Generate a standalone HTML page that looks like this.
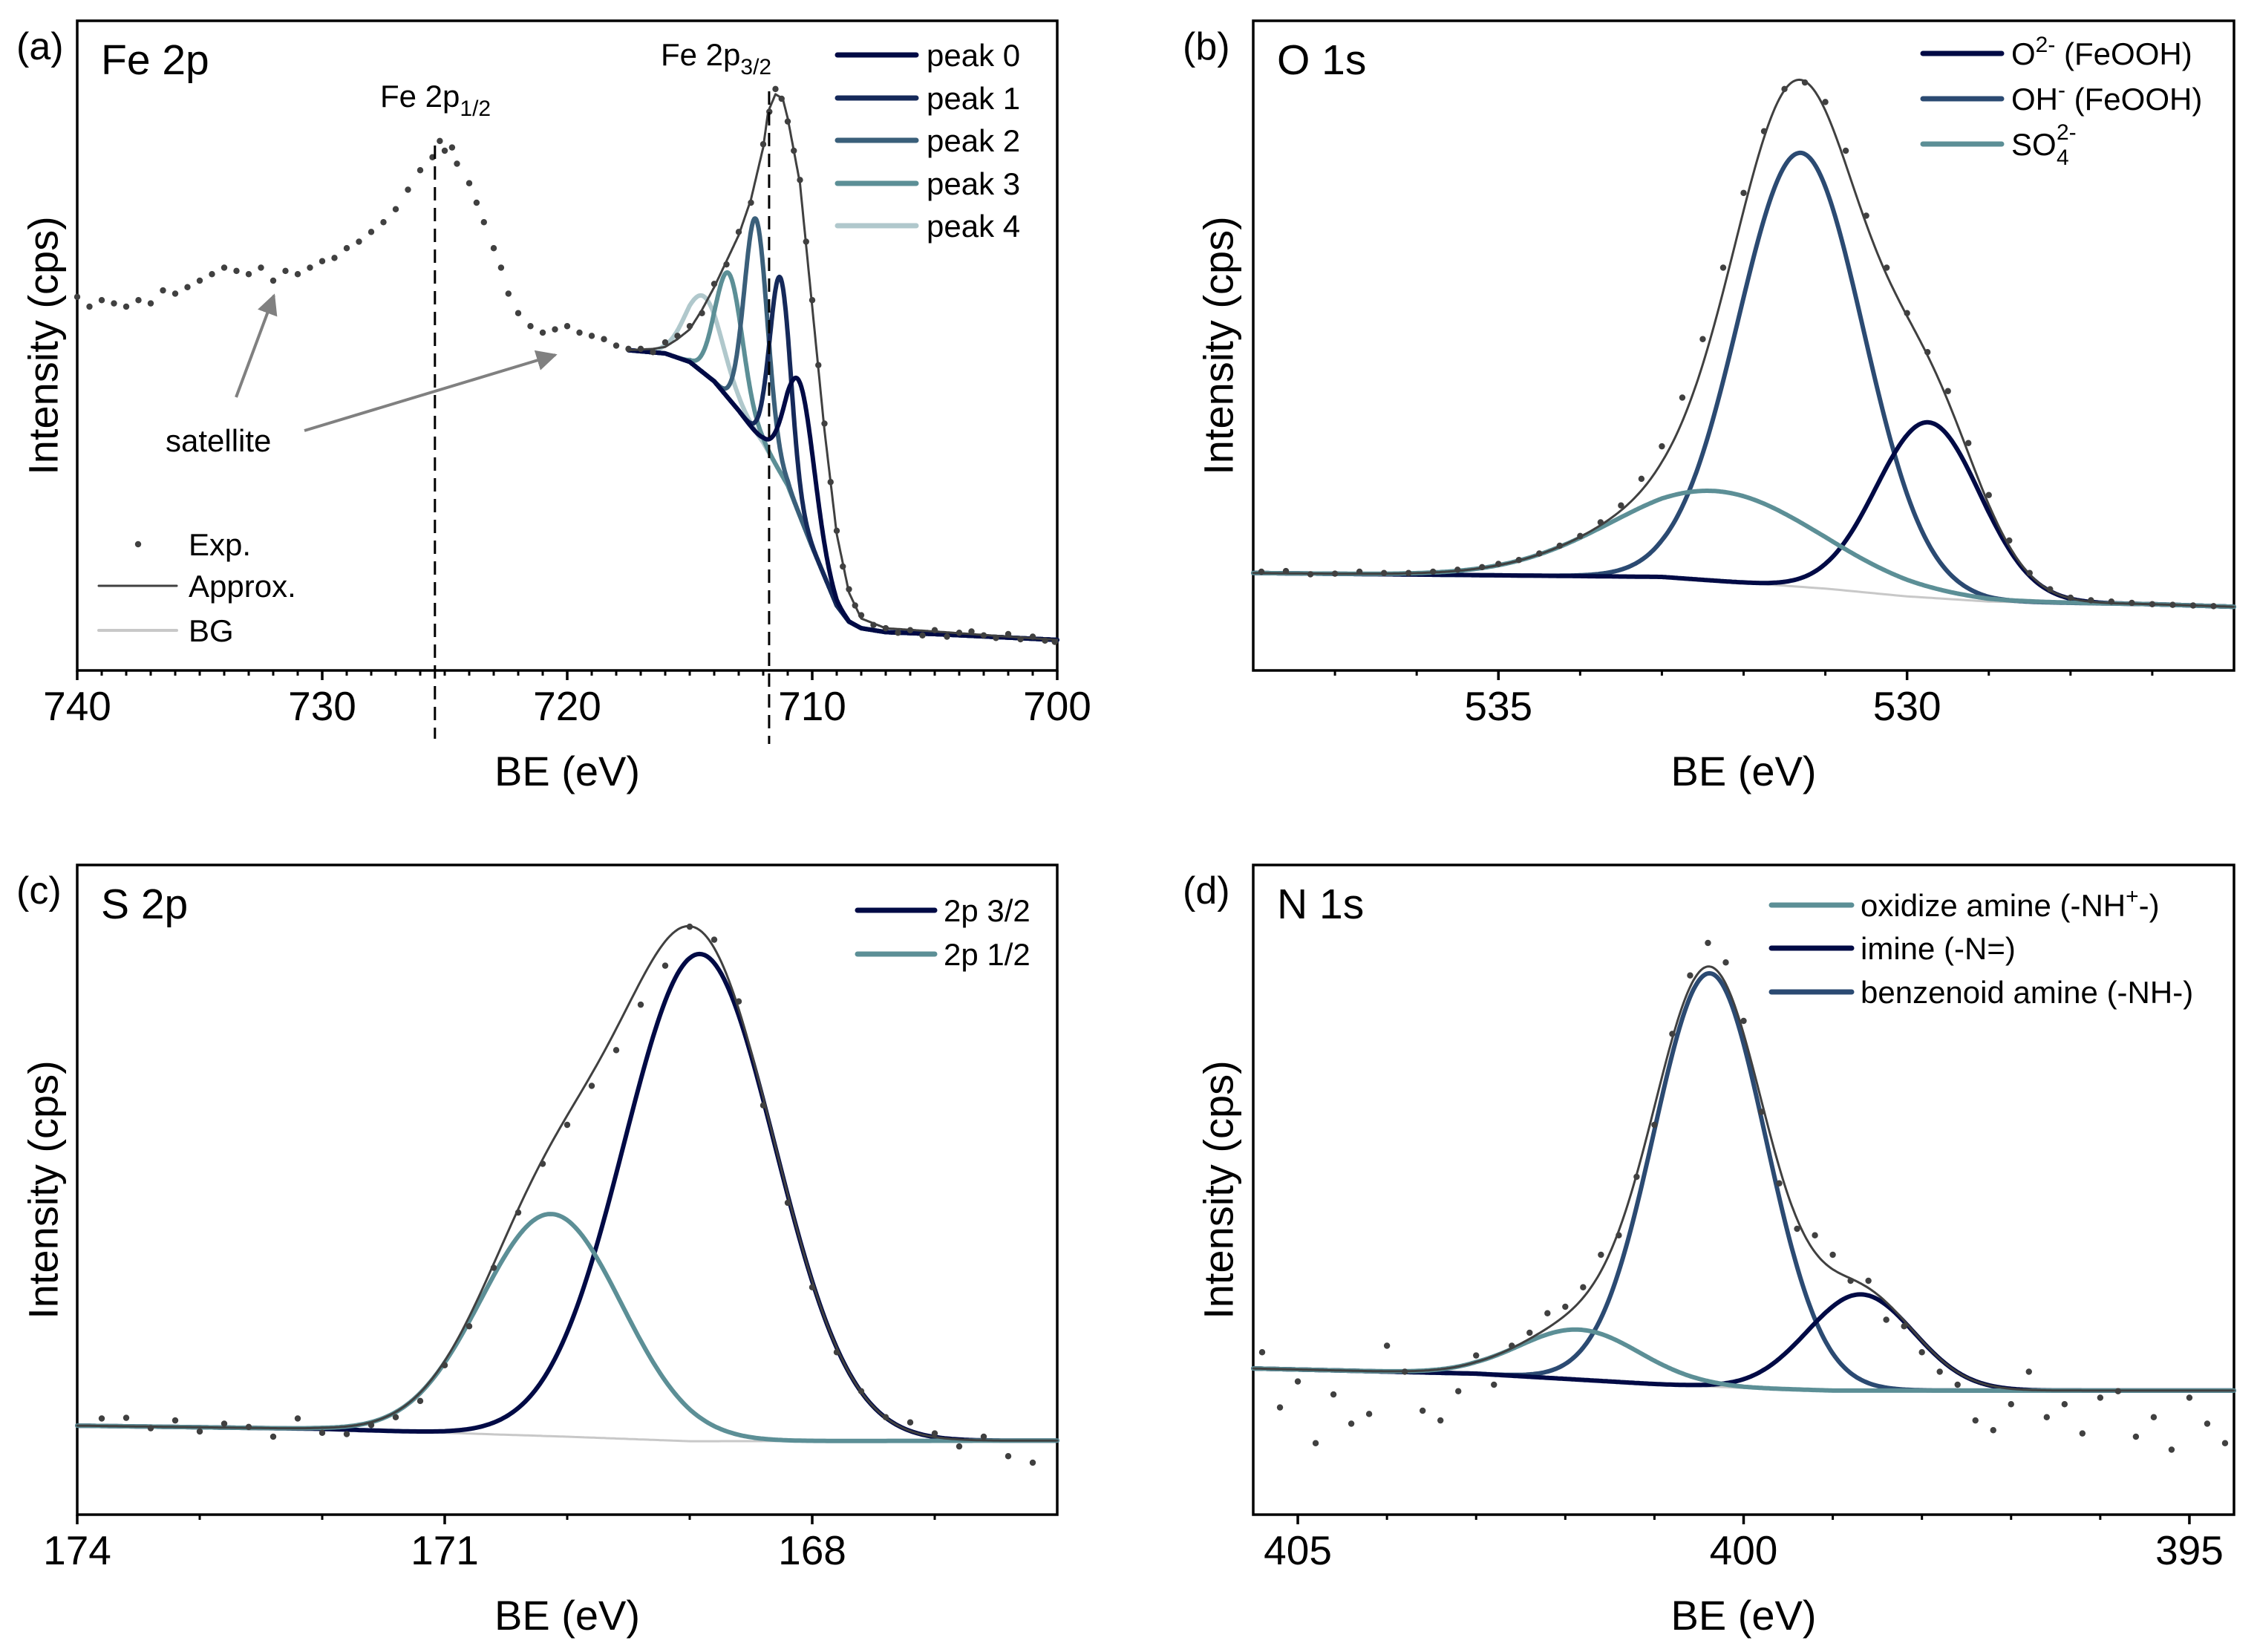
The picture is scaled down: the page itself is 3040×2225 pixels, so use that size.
<!DOCTYPE html>
<html><head><meta charset="utf-8"><style>
html,body{margin:0;padding:0;background:#fff;}
svg{display:block;font-family:"Liberation Sans",Arial,sans-serif;}
</style></head><body>
<svg id="fig" width="3040" height="2225" viewBox="0 0 3040 2225" xmlns="http://www.w3.org/2000/svg">
<defs>
<marker id="ah" viewBox="0 0 10 10" refX="9" refY="5" markerWidth="7" markerHeight="7" orient="auto" markerUnits="strokeWidth"><path d="M0,0 L10,5 L0,10 z" fill="#808080"/></marker>
</defs>
</svg>
<script>
// ---------- Panel (a) Fe 2p data ----------
const aExpX=[740,739.5,739,738.5,738,737.5,737,736.5,736,735.5,735,734.5,734,733.5,733,732.5,732,731.5,731,730.5,730,729.5,729,728.5,728,727.5,727,726.5,726,725.5,725.2,725,724.7,724.5,724,723.7,723.4,723,722.7,722.4,722,721.5,721,720.5,720,719.5,719,718.5,718,717.5,717,716.5,716,715.5,715,714.5,714,713.5,713,712.5,712,711.75,711.5,711.25,711,710.75,710.5,710.25,710,709.75,709.5,709.25,709,708.75,708.5,708.25,708,707.5,707,706.5,706,705.5,705,704.5,704,703.5,703,702.5,702,701.5,701,700.5,700.1];
const aExpY=[57.5,56,57,56.5,56,57,56.5,58.5,58,59,60,61,62,61.5,61,62,60,61.5,61,62,63,63.5,65,66,67.5,69,71,74,77,79,81.5,80,80.5,78,75,72,69,65,62,58,55,53,52,52.5,53,52,51.5,51,50,49.5,49.5,49,50.5,51.5,53,55,59.5,62.5,67.5,72,81,86,89.5,88,84.5,80,75.5,66,57,47,38,29,21.5,16,12.5,10,8.5,7,6.5,5.8,6.2,5.4,6.2,5.2,5.8,6,5.4,5,5.6,4.8,5.2,4.6,4.4];
const aFitX=[717.5,716.5,716,715.5,715,714.5,714,713.5,713,712.5,712,711.8,711.5,711.2,711,710.5,710,709.5,709,708.5,708,707,705,702,700];
const aFitY=[49.3,49.5,49.8,51,52.5,55.5,59,63,67,72.5,80.5,86,88.7,88,85,75,56,37,21,12,8,6.5,6,5.2,4.7];
const aBgX=[717.5,716,715,714,713,712,711,710,709,708.5,708,707,705,700];
const aBgY=[49.3,48.8,47.5,44.5,40,35,28.5,19,10,7.5,6.5,5.9,5.6,4.7];
const aPeakNames=["peak 0","peak 1","peak 2","peak 3","peak 4"];
const aPeakCenter=[710.5,711.3,712.3,713.4,714.4];
const aPeakAmp=[20.5,30,33,19.3,11.8];
const aPeakFwhm=[1.4,1.0,1.1,1.3,1.8];
const aTicks=[740,730,720,710,700];
const aTickLabels=["740","730","720","710","700"];

// ---------- Panel (b) O 1s data ----------
const bExpX=[537.9,537.6,537.3,537.0,536.7,536.4,536.1,535.8,535.5,535.2,535.0,534.75,534.5,534.25,534.0,533.75,533.5,533.25,533.0,532.75,532.5,532.25,532.0,531.75,531.5,531.25,531.0,530.75,530.5,530.25,530.0,529.75,529.5,529.25,529.0,528.75,528.5,528.25,528.0,527.75,527.5,527.25,527.0,526.75,526.5,526.25];
const bExpY=[15.2,15.3,14.8,14.9,15.2,15.0,15.0,15.2,15.5,15.9,16.4,17.0,18.0,19.2,20.7,22.8,25.4,29.5,34.5,42,51,62,73.5,83,89.5,90.5,87.5,80,70,62,55,49,43,35,27,20,15,12.5,11.2,10.8,10.6,10.4,10.2,10.1,10.0,9.9];
const bBgX=[538,533,531,530,529,527,526];
const bBgY=[15,14.4,12.6,11.4,10.6,10.2,9.8];
const bPeakCenter=[529.74,531.3,532.34];
const bPeakAmp=[27,66.8,13.8];
const bPeakFwhm=[1.5,1.8,3.0];
const bTicks=[535,530];
const bTickLabels=["535","530"];

// ---------- Panel (c) S 2p data ----------
const cExpX=[173.8,173.6,173.4,173.2,173.0,172.8,172.6,172.4,172.2,172.0,171.8,171.6,171.4,171.2,171.0,170.8,170.6,170.4,170.2,170.0,169.8,169.6,169.4,169.2,169.0,168.8,168.6,168.4,168.2,168.0,167.8,167.6,167.4,167.2,167.0,166.8,166.6,166.4,166.2];
const cExpY=[14.8,14.9,13.3,14.5,12.8,14.0,13.5,12.0,14.8,12.6,12.4,13.8,15.0,17.5,23,29,38,46.5,54,60,66,71.5,78.5,84.5,90.5,88.5,79,63,48,35,25,19,15,14.2,12.5,10.5,12.0,9.0,8.0];
const cBgX=[174,172,170,169,166];
const cBgY=[13.7,13.2,12,11.3,11.4];
const cPeakCenter=[168.92,170.13];
const cPeakAmp=[75,34.2];
const cPeakFwhm=[1.45,1.35];
const cTicks=[174,171,168];
const cTickLabels=["174","171","168"];

// ---------- Panel (d) N 1s data ----------
const dExpX=[405.4,405.2,405.0,404.8,404.6,404.4,404.2,404.0,403.8,403.6,403.4,403.2,403.0,402.8,402.6,402.4,402.2,402.0,401.8,401.6,401.4,401.2,401.0,400.8,400.6,400.4,400.2,400.0,399.8,399.6,399.4,399.2,399.0,398.8,398.6,398.4,398.2,398.0,397.8,397.6,397.4,397.2,397.0,396.8,396.6,396.4,396.2,396.0,395.8,395.6,395.4,395.2,395.0,394.8,394.6];
const dExpY=[25,16.5,20.5,11,18.5,14,15.5,26,22,16,14.5,19,24.5,20,26,28,31,32,35,40,43,52,60,74,83,88,85,76,62,51,44,43,40,36,36,30,29,25,22,20,14.5,13,17,22,15,17,12.5,18,19,12,15,10,18,14,11];
const dBgX=[405.5,403,401,400,399,394.5];
const dBgY=[22.5,21.7,20.1,19.5,19.1,19.1];
const dPeakCenter=[401.84,398.69,400.38];
const dPeakAmp=[7.7,14.8,63.6];
const dPeakFwhm=[1.6,1.41,1.48];
const dTicks=[405,400,395];
const dTickLabels=["405","400","395"];

// ---------- drawing ----------
const NS="http://www.w3.org/2000/svg";
const svg=document.getElementById('fig');
function mk(tag,attrs,parent){const e=document.createElementNS(NS,tag);for(const k in attrs)e.setAttribute(k,attrs[k]);(parent||svg).appendChild(e);return e;}
function gauss(x,c,A,F){return A*Math.exp(-4*Math.LN2*(x-c)*(x-c)/(F*F));}
function interp(xs,ys,x){for(let i=0;i<xs.length-1;i++){const a=xs[i],b=xs[i+1];if((x<=a&&x>=b)||(x>=a&&x<=b)){const t=(x-a)/(b-a);return ys[i]+t*(ys[i+1]-ys[i]);}}return x>xs[0]===(xs[0]>xs[xs.length-1])?ys[0]:ys[ys.length-1];}
const C0="#000a45",C1="#15295a",C2="#3a5f7a",C3="#5c8f96",C4="#b0c8cc",CB="#2b4a72";

function makePanel(P){
  const g=mk('g',{});
  
  
  P.sx=v=>P.L+(P.xL-v)/(P.xL-P.xR)*(P.R-P.L);
  P.sy=v=>P.B-v/100*(P.B-P.T);
  P.g=g;
  return P;
}
function drawAxes(P,ticks,labels,minorFrom,minorTo){
  const g=P.g;
  const box=mk('rect',{x:P.L,y:P.T,width:P.R-P.L,height:P.B-P.T,fill:'none',stroke:'#000','stroke-width':3.5},g);
  
  
  for(let v=minorFrom;v>=minorTo-1e-9;v-=1){
    const x=P.sx(v);
    const t=mk('line',{x1:x,x2:x,y1:P.B,y2:P.B+7,stroke:'#000','stroke-width':3},g);
    
    
  }
  ticks.forEach((v,i)=>{
    const x=P.sx(v);
    const t=mk('line',{x1:x,x2:x,y1:P.B,y2:P.B+13,stroke:'#000','stroke-width':3.5},g);
    
    
    const tx=mk('text',{x:x,y:P.B+67,'font-size':55,'text-anchor':'middle',fill:'#000'},g);
    tx.textContent=labels[i];
    
    
  });
  const xt=mk('text',{x:(P.L+P.R)/2,y:P.B+155,'font-size':56,'text-anchor':'middle'},g);
  xt.textContent='BE (eV)';
  
  
  const cy=(P.T+P.B)/2;
  const yt=mk('text',{x:P.yx,y:cy,'font-size':56,'text-anchor':'middle','dominant-baseline':'central',transform:`rotate(-90 ${P.yx} ${cy})`},g);
  yt.textContent='Intensity (cps)';
  
  
  const pl=mk('text',{x:P.plx,y:P.T+52,'font-size':52},g);
  pl.textContent=P.label;
  
  
  const tt=mk('text',{x:P.L+32,y:P.T+72,'font-size':57},g);
  tt.textContent=P.title;
  
  
}
function pathFrom(P,fn,x0,x1,step){
  let d='';for(let x=x0;x>=x1-1e-9;x-=step){d+=(d?'L':'M')+P.sx(x).toFixed(1)+','+P.sy(fn(x)).toFixed(1);}return d;
}
function curve(P,d,color,w,name){
  const p=mk('path',{d:d,fill:'none',stroke:color,'stroke-width':w,'stroke-linejoin':'round','stroke-linecap':'round'},P.g);
  
  
}
function dots(P,xs,ys){
  xs.forEach((x,i)=>{
    const c=mk('circle',{cx:P.sx(x),cy:P.sy(ys[i]),r:4.2,fill:'#404040'},P.g);
    
    
  });
}
function legendLine(g,x1,x2,y,color,w,label,tx,name){
  const l=mk('line',{x1:x1,x2:x2,y1:y,y2:y,stroke:color,'stroke-width':w,'stroke-linecap':'round'},g);
  
  
  const t=mk('text',{x:tx,y:y+15,'font-size':42},g);
  
  
  if(label!==null)t.textContent=label;
  return t;
}
function tspan(t,txt,attrs){const s=mk('tspan',attrs||{},t);s.textContent=txt;return s;}

// ---- Panel a ----
const A=makePanel({name:'panel-a-fe2p',L:104,R:1424,T:28,B:903,xL:740,xR:700,yx:58,plx:22,label:'(a)',title:'Fe 2p'});
drawAxes(A,aTicks,aTickLabels,739,701);
{
  const bg=x=>interp(aBgX,aBgY,x);
  curve(A,pathFrom(A,bg,717.5,700,0.05),'#c8c8c8',3,'bg-line');
  const cols=[C0,C1,C2,C3,C4];
  for(let i=aPeakCenter.length-1;i>=0;i--){
    curve(A,pathFrom(A,x=>bg(x)+gauss(x,aPeakCenter[i],aPeakAmp[i],aPeakFwhm[i]),717.5,700,0.02),cols[i],6,'peak-'+i+'-curve');
  }
  curve(A,pathFrom(A,x=>interp(aFitX,aFitY,x),717.5,700,0.05),'#404040',3,'approx-curve');
  dots(A,aExpX,aExpY);
  const lg=mk('g',{},A.g);
  
  
  const rows=[74,132,189,247,304];
  aPeakNames.forEach((n,i)=>legendLine(lg,1128,1234,rows[i],cols[i],7,n,1248,'legend-peak-'+i));
  const lg2=mk('g',{},A.g);
  
  
  const ed=mk('circle',{cx:186,cy:733,r:4.2,fill:'#404040'},lg2);
  
  
  const et=mk('text',{x:254,y:748,'font-size':42},lg2);et.textContent='Exp.';
  
  
  legendLine(lg2,133,238,789,'#404040',3,'Approx.',254,'legend-approx');
  legendLine(lg2,133,238,849,'#c8c8c8',4,'BG',254,'legend-bg');
  const d1=mk('line',{x1:A.sx(725.4),x2:A.sx(725.4),y1:196,y2:995,stroke:'#000','stroke-width':3,'stroke-dasharray':'18,10'},A.g);
  
  
  const d2=mk('line',{x1:A.sx(711.76),x2:A.sx(711.76),y1:123,y2:1002,stroke:'#000','stroke-width':3,'stroke-dasharray':'18,10'},A.g);
  
  
  const l1=mk('text',{x:512,y:144,'font-size':42},A.g);
  
  
  tspan(l1,'Fe 2p');tspan(l1,'1/2',{'font-size':30,dy:12});
  const l2=mk('text',{x:890,y:88,'font-size':42},A.g);
  
  
  tspan(l2,'Fe 2p');tspan(l2,'3/2',{'font-size':30,dy:12});
  const st=mk('text',{x:223,y:608,'font-size':42},A.g);st.textContent='satellite';
  
  
  const ar1=mk('line',{x1:318,y1:535,x2:369,y2:398,stroke:'#808080','stroke-width':4,'marker-end':'url(#ah)'},A.g);
  
  
  const ar2=mk('line',{x1:410,y1:580,x2:748,y2:478,stroke:'#808080','stroke-width':4,'marker-end':'url(#ah)'},A.g);
  
  
}

// ---- Panel b ----
const B=makePanel({name:'panel-b-o1s',L:1688,R:3009,T:28,B:903,xL:538,xR:526,yx:1641,plx:1593,label:'(b)',title:'O 1s'});
drawAxes(B,bTicks,bTickLabels,537,527);
{
  const bg=x=>interp(bBgX,bBgY,x);
  curve(B,pathFrom(B,bg,538,526,0.05),'#c8c8c8',3,'bg-line');
  const cols=[C0,CB,C3];
  [1,0,2].forEach(i=>curve(B,pathFrom(B,x=>bg(x)+gauss(x,bPeakCenter[i],bPeakAmp[i],bPeakFwhm[i]),538,526,0.02),cols[i],6,'component-'+i+'-curve'));
  curve(B,pathFrom(B,x=>bg(x)+bPeakCenter.reduce((s,c,i)=>s+gauss(x,c,bPeakAmp[i],bPeakFwhm[i]),0),538,526,0.02),'#404040',3,'approx-curve');
  dots(B,bExpX,bExpY);
  const lg=mk('g',{},B.g);
  
  
  const t0=legendLine(lg,2590,2696,72,C0,7,null,2709,'legend-o2');
  tspan(t0,'O');tspan(t0,'2-',{'font-size':30,dy:-17});tspan(t0,' (FeOOH)',{dy:17});
  const t1=legendLine(lg,2590,2696,133,CB,7,null,2709,'legend-oh');
  tspan(t1,'OH');tspan(t1,'-',{'font-size':30,dy:-17});tspan(t1,' (FeOOH)',{dy:17});
  legendLine(lg,2590,2696,194,C3,7,'SO',2709,'legend-so4');
  const s1=mk('text',{x:2770,y:222,'font-size':30},lg);s1.textContent='4';
  
  
  const s2=mk('text',{x:2770,y:188,'font-size':30},lg);s2.textContent='2-';
  
  
}

// ---- Panel c ----
const Cp=makePanel({name:'panel-c-s2p',L:104,R:1424,T:1165,B:2040,xL:174,xR:166,yx:58,plx:22,label:'(c)',title:'S 2p'});
drawAxes(Cp,cTicks,cTickLabels,173,167);
{
  const bg=x=>interp(cBgX,cBgY,x);
  curve(Cp,pathFrom(Cp,bg,174,166,0.02),'#c8c8c8',3,'bg-line');
  const cols=[C0,C3];
  [0,1].forEach(i=>curve(Cp,pathFrom(Cp,x=>bg(x)+gauss(x,cPeakCenter[i],cPeakAmp[i],cPeakFwhm[i]),174,166,0.02),cols[i],6,'component-'+i+'-curve'));
  curve(Cp,pathFrom(Cp,x=>bg(x)+cPeakCenter.reduce((s,c,i)=>s+gauss(x,c,cPeakAmp[i],cPeakFwhm[i]),0),174,166,0.02),'#404040',3,'approx-curve');
  dots(Cp,cExpX,cExpY);
  const lg=mk('g',{},Cp.g);
  
  
  legendLine(lg,1155,1259,1226,C0,7,'2p 3/2',1271,'legend-2p32');
  legendLine(lg,1155,1259,1285,C3,7,'2p 1/2',1271,'legend-2p12');
}

// ---- Panel d ----
const D=makePanel({name:'panel-d-n1s',L:1688,R:3009,T:1165,B:2040,xL:405.5,xR:394.5,yx:1641,plx:1593,label:'(d)',title:'N 1s'});
drawAxes(D,dTicks,dTickLabels,405,395);
{
  const bg=x=>interp(dBgX,dBgY,x);
  curve(D,pathFrom(D,bg,405.5,394.5,0.05),'#c8c8c8',3,'bg-line');
  const cols=[C3,C0,CB];
  [2,1,0].forEach(i=>curve(D,pathFrom(D,x=>bg(x)+gauss(x,dPeakCenter[i],dPeakAmp[i],dPeakFwhm[i]),405.5,394.5,0.02),cols[i],6,'component-'+i+'-curve'));
  curve(D,pathFrom(D,x=>bg(x)+dPeakCenter.reduce((s,c,i)=>s+gauss(x,c,dPeakAmp[i],dPeakFwhm[i]),0),405.5,394.5,0.02),'#404040',3,'approx-curve');
  dots(D,dExpX,dExpY);
  const lg=mk('g',{},D.g);
  
  
  const t0=legendLine(lg,2386,2494,1219,C3,7,null,2506,'legend-oxidized-amine');
  tspan(t0,'oxidize amine (-NH');tspan(t0,'+',{'font-size':30,dy:-17});tspan(t0,'-)',{dy:17});
  legendLine(lg,2386,2494,1277,C0,7,'imine (-N=)',2506,'legend-imine');
  legendLine(lg,2386,2494,1336,CB,7,'benzenoid amine (-NH-)',2506,'legend-benzenoid-amine');
}
</script>
</body></html>
